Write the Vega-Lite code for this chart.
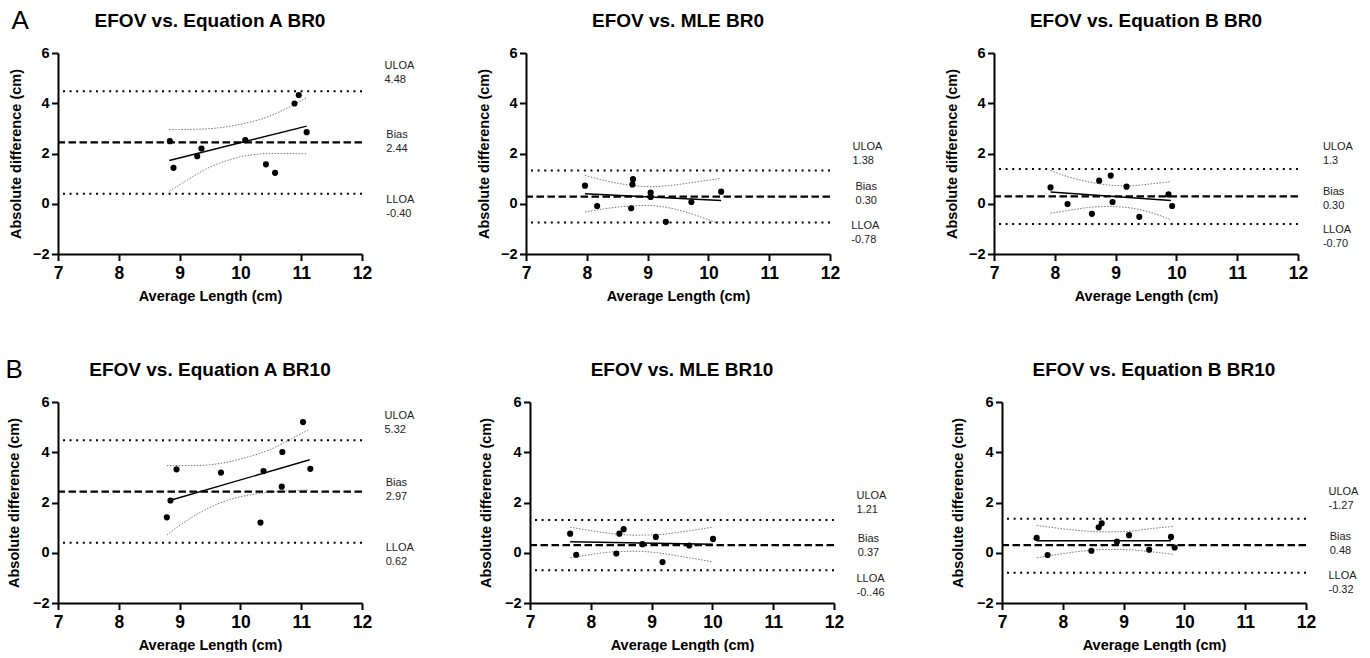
{
  "$schema": "https://vega.github.io/schema/vega-lite/v6.json",
  "padding": {"top": 7, "left": 5, "right": 5, "bottom": 0},
  "background": "white",
  "datasets": {
    "d": [
      {"p":"a0","k":"pt","x":8.84,"y":2.49},{"p":"a0","k":"pt","x":8.90,"y":1.43},{"p":"a0","k":"pt","x":9.29,"y":1.89},{"p":"a0","k":"pt","x":9.36,"y":2.20},{"p":"a0","k":"pt","x":10.08,"y":2.53},{"p":"a0","k":"pt","x":10.42,"y":1.57},{"p":"a0","k":"pt","x":10.57,"y":1.23},{"p":"a0","k":"pt","x":10.89,"y":3.99},{"p":"a0","k":"pt","x":10.96,"y":4.33},{"p":"a0","k":"pt","x":11.09,"y":2.85},
      {"p":"m0","k":"pt","x":7.97,"y":0.72},{"p":"m0","k":"pt","x":8.17,"y":-0.09},{"p":"m0","k":"pt","x":8.73,"y":-0.18},{"p":"m0","k":"pt","x":8.75,"y":0.77},{"p":"m0","k":"pt","x":8.76,"y":0.98},{"p":"m0","k":"pt","x":9.05,"y":0.44},{"p":"m0","k":"pt","x":9.05,"y":0.27},{"p":"m0","k":"pt","x":9.30,"y":-0.72},{"p":"m0","k":"pt","x":9.72,"y":0.07},{"p":"m0","k":"pt","x":10.21,"y":0.48},
      {"p":"b0","k":"pt","x":7.93,"y":0.65},{"p":"b0","k":"pt","x":8.21,"y":-0.01},{"p":"b0","k":"pt","x":8.61,"y":-0.40},{"p":"b0","k":"pt","x":8.73,"y":0.92},{"p":"b0","k":"pt","x":8.92,"y":1.12},{"p":"b0","k":"pt","x":8.95,"y":0.07},{"p":"b0","k":"pt","x":9.18,"y":0.68},{"p":"b0","k":"pt","x":9.39,"y":-0.52},{"p":"b0","k":"pt","x":9.87,"y":0.37},{"p":"b0","k":"pt","x":9.93,"y":-0.09},
      {"p":"a10","k":"pt","x":8.79,"y":1.41},{"p":"a10","k":"pt","x":8.85,"y":2.08},{"p":"a10","k":"pt","x":8.95,"y":3.32},{"p":"a10","k":"pt","x":9.68,"y":3.19},{"p":"a10","k":"pt","x":10.33,"y":1.20},{"p":"a10","k":"pt","x":10.38,"y":3.25},{"p":"a10","k":"pt","x":10.68,"y":2.63},{"p":"a10","k":"pt","x":10.69,"y":4.01},{"p":"a10","k":"pt","x":11.03,"y":5.20},{"p":"a10","k":"pt","x":11.15,"y":3.34},
      {"p":"m10","k":"pt","x":7.66,"y":0.76},{"p":"m10","k":"pt","x":7.76,"y":-0.08},{"p":"m10","k":"pt","x":8.42,"y":-0.03},{"p":"m10","k":"pt","x":8.47,"y":0.76},{"p":"m10","k":"pt","x":8.54,"y":0.94},{"p":"m10","k":"pt","x":8.85,"y":0.34},{"p":"m10","k":"pt","x":9.07,"y":0.63},{"p":"m10","k":"pt","x":9.18,"y":-0.37},{"p":"m10","k":"pt","x":9.62,"y":0.29},{"p":"m10","k":"pt","x":10.01,"y":0.55},
      {"p":"b10","k":"pt","x":7.57,"y":0.59},{"p":"b10","k":"pt","x":7.75,"y":-0.09},{"p":"b10","k":"pt","x":8.47,"y":0.08},{"p":"b10","k":"pt","x":8.59,"y":1.01},{"p":"b10","k":"pt","x":8.64,"y":1.17},{"p":"b10","k":"pt","x":8.89,"y":0.44},{"p":"b10","k":"pt","x":9.09,"y":0.70},{"p":"b10","k":"pt","x":9.42,"y":0.12},{"p":"b10","k":"pt","x":9.78,"y":0.63},{"p":"b10","k":"pt","x":9.84,"y":0.21},

      {"p":"a0","k":"fit","x":8.83,"y":1.72},{"p":"a0","k":"fit","x":11.09,"y":3.09},
      {"p":"m0","k":"fit","x":7.97,"y":0.40},{"p":"m0","k":"fit","x":10.21,"y":0.13},
      {"p":"b0","k":"fit","x":7.93,"y":0.47},{"p":"b0","k":"fit","x":9.91,"y":0.13},
      {"p":"a10","k":"fit","x":8.85,"y":2.09},{"p":"a10","k":"fit","x":11.14,"y":3.70},
      {"p":"m10","k":"fit","x":7.66,"y":0.44},{"p":"m10","k":"fit","x":10.01,"y":0.34},
      {"p":"b10","k":"fit","x":7.57,"y":0.48},{"p":"b10","k":"fit","x":9.78,"y":0.48},

      {"p":"a0","k":"ci","g":"u","x":8.83,"y":2.95},{"p":"a0","k":"ci","g":"u","x":9.22,"y":2.96},{"p":"a0","k":"ci","g":"u","x":9.67,"y":3.03},{"p":"a0","k":"ci","g":"u","x":10.05,"y":3.19},{"p":"a0","k":"ci","g":"u","x":10.44,"y":3.45},{"p":"a0","k":"ci","g":"u","x":10.77,"y":3.81},{"p":"a0","k":"ci","g":"u","x":11.09,"y":4.22},
      {"p":"a0","k":"ci","g":"l","x":8.83,"y":0.50},{"p":"a0","k":"ci","g":"l","x":9.11,"y":0.92},{"p":"a0","k":"ci","g":"l","x":9.44,"y":1.39},{"p":"a0","k":"ci","g":"l","x":9.78,"y":1.72},{"p":"a0","k":"ci","g":"l","x":10.11,"y":1.92},{"p":"a0","k":"ci","g":"l","x":10.55,"y":2.00},{"p":"a0","k":"ci","g":"l","x":11.08,"y":1.99},
      {"p":"m0","k":"ci","g":"u","x":7.97,"y":1.13},{"p":"m0","k":"ci","g":"u","x":8.30,"y":0.92},{"p":"m0","k":"ci","g":"u","x":8.68,"y":0.75},{"p":"m0","k":"ci","g":"u","x":9.06,"y":0.68},{"p":"m0","k":"ci","g":"u","x":9.45,"y":0.75},{"p":"m0","k":"ci","g":"u","x":9.83,"y":0.88},{"p":"m0","k":"ci","g":"u","x":10.21,"y":1.01},
      {"p":"m0","k":"ci","g":"l","x":7.97,"y":-0.33},{"p":"m0","k":"ci","g":"l","x":8.35,"y":-0.18},{"p":"m0","k":"ci","g":"l","x":8.73,"y":-0.09},{"p":"m0","k":"ci","g":"l","x":9.01,"y":-0.07},{"p":"m0","k":"ci","g":"l","x":9.39,"y":-0.18},{"p":"m0","k":"ci","g":"l","x":9.77,"y":-0.44},{"p":"m0","k":"ci","g":"l","x":10.13,"y":-0.75},
      {"p":"b0","k":"ci","g":"u","x":7.93,"y":1.32},{"p":"b0","k":"ci","g":"u","x":8.21,"y":1.08},{"p":"b0","k":"ci","g":"u","x":8.54,"y":0.88},{"p":"b0","k":"ci","g":"u","x":8.87,"y":0.75},{"p":"b0","k":"ci","g":"u","x":9.19,"y":0.71},{"p":"b0","k":"ci","g":"u","x":9.58,"y":0.79},{"p":"b0","k":"ci","g":"u","x":9.91,"y":0.88},
      {"p":"b0","k":"ci","g":"l","x":7.93,"y":-0.38},{"p":"b0","k":"ci","g":"l","x":8.26,"y":-0.25},{"p":"b0","k":"ci","g":"l","x":8.59,"y":-0.14},{"p":"b0","k":"ci","g":"l","x":8.87,"y":-0.11},{"p":"b0","k":"ci","g":"l","x":9.19,"y":-0.15},{"p":"b0","k":"ci","g":"l","x":9.58,"y":-0.35},{"p":"b0","k":"ci","g":"l","x":9.91,"y":-0.64},
      {"p":"a10","k":"ci","g":"u","x":8.79,"y":3.47},{"p":"a10","k":"ci","g":"u","x":9.24,"y":3.47},{"p":"a10","k":"ci","g":"u","x":9.68,"y":3.56},{"p":"a10","k":"ci","g":"u","x":10.11,"y":3.80},{"p":"a10","k":"ci","g":"u","x":10.50,"y":4.12},{"p":"a10","k":"ci","g":"u","x":10.83,"y":4.52},{"p":"a10","k":"ci","g":"u","x":11.13,"y":4.91},
      {"p":"a10","k":"ci","g":"l","x":8.79,"y":0.71},{"p":"a10","k":"ci","g":"l","x":9.13,"y":1.30},{"p":"a10","k":"ci","g":"l","x":9.46,"y":1.76},{"p":"a10","k":"ci","g":"l","x":9.79,"y":2.09},{"p":"a10","k":"ci","g":"l","x":10.17,"y":2.31},{"p":"a10","k":"ci","g":"l","x":10.55,"y":2.42},{"p":"a10","k":"ci","g":"l","x":11.13,"y":2.50},
      {"p":"m10","k":"ci","g":"u","x":7.66,"y":1.02},{"p":"m10","k":"ci","g":"u","x":8.00,"y":0.88},{"p":"m10","k":"ci","g":"u","x":8.39,"y":0.75},{"p":"m10","k":"ci","g":"u","x":8.72,"y":0.70},{"p":"m10","k":"ci","g":"u","x":9.10,"y":0.72},{"p":"m10","k":"ci","g":"u","x":9.54,"y":0.85},{"p":"m10","k":"ci","g":"u","x":10.01,"y":1.02},
      {"p":"m10","k":"ci","g":"l","x":7.66,"y":-0.20},{"p":"m10","k":"ci","g":"l","x":8.00,"y":-0.07},{"p":"m10","k":"ci","g":"l","x":8.39,"y":0.04},{"p":"m10","k":"ci","g":"l","x":8.72,"y":0.06},{"p":"m10","k":"ci","g":"l","x":9.10,"y":0.00},{"p":"m10","k":"ci","g":"l","x":9.54,"y":-0.17},{"p":"m10","k":"ci","g":"l","x":10.01,"y":-0.36},
      {"p":"b10","k":"ci","g":"u","x":7.57,"y":1.09},{"p":"b10","k":"ci","g":"u","x":7.91,"y":0.98},{"p":"b10","k":"ci","g":"u","x":8.30,"y":0.88},{"p":"b10","k":"ci","g":"u","x":8.68,"y":0.83},{"p":"b10","k":"ci","g":"u","x":9.06,"y":0.85},{"p":"b10","k":"ci","g":"u","x":9.45,"y":0.96},{"p":"b10","k":"ci","g":"u","x":9.83,"y":1.05},
      {"p":"b10","k":"ci","g":"l","x":7.57,"y":-0.20},{"p":"b10","k":"ci","g":"l","x":7.91,"y":-0.07},{"p":"b10","k":"ci","g":"l","x":8.30,"y":0.06},{"p":"b10","k":"ci","g":"l","x":8.68,"y":0.13},{"p":"b10","k":"ci","g":"l","x":9.06,"y":0.12},{"p":"b10","k":"ci","g":"l","x":9.45,"y":0.04},{"p":"b10","k":"ci","g":"l","x":9.83,"y":-0.07},

      {"p":"a0","k":"loa","y":4.48},{"p":"a0","k":"bias","y":2.44},{"p":"a0","k":"loa","y":0.40},
      {"p":"m0","k":"loa","y":1.32},{"p":"m0","k":"bias","y":0.28},{"p":"m0","k":"loa","y":-0.75},
      {"p":"b0","k":"loa","y":1.38},{"p":"b0","k":"bias","y":0.29},{"p":"b0","k":"loa","y":-0.81},
      {"p":"a10","k":"loa","y":4.48},{"p":"a10","k":"bias","y":2.43},{"p":"a10","k":"loa","y":0.40},
      {"p":"m10","k":"loa","y":1.30},{"p":"m10","k":"bias","y":0.30},{"p":"m10","k":"loa","y":-0.70},
      {"p":"b10","k":"loa","y":1.35},{"p":"b10","k":"bias","y":0.30},{"p":"b10","k":"loa","y":-0.80},

      {"p":"a0","k":"lab","x":12.37,"y":5.50,"t":"ULOA\n4.48"},{"p":"a0","k":"lab","x":12.40,"y":2.73,"t":"Bias\n2.44"},{"p":"a0","k":"lab","x":12.40,"y":0.15,"t":"LLOA\n-0.40"},
      {"p":"m0","k":"lab","x":12.37,"y":2.27,"t":"ULOA\n1.38"},{"p":"m0","k":"lab","x":12.42,"y":0.68,"t":"Bias\n0.30"},{"p":"m0","k":"lab","x":12.35,"y":-0.88,"t":"LLOA\n-0.78"},
      {"p":"b0","k":"lab","x":12.41,"y":2.24,"t":"ULOA\n1.3"},{"p":"b0","k":"lab","x":12.41,"y":0.48,"t":"Bias\n0.30"},{"p":"b0","k":"lab","x":12.41,"y":-1.04,"t":"LLOA\n-0.70"},
      {"p":"a10","k":"lab","x":12.37,"y":5.43,"t":"ULOA\n5.32"},{"p":"a10","k":"lab","x":12.39,"y":2.79,"t":"Bias\n2.97"},{"p":"a10","k":"lab","x":12.39,"y":0.19,"t":"LLOA\n0.62"},
      {"p":"m10","k":"lab","x":12.37,"y":2.27,"t":"ULOA\n1.21"},{"p":"m10","k":"lab","x":12.39,"y":0.55,"t":"Bias\n0.37"},{"p":"m10","k":"lab","x":12.37,"y":-1.05,"t":"LLOA\n-0..46"},
      {"p":"b10","k":"lab","x":12.37,"y":2.43,"t":"ULOA\n-1.27"},{"p":"b10","k":"lab","x":12.39,"y":0.62,"t":"Bias\n0.48"},{"p":"b10","k":"lab","x":12.37,"y":-0.94,"t":"LLOA\n-0.32"}
    ]
  },
  "data": {"name": "d"},
  "vconcat": [
    {
      "title": {"text": "A", "anchor": "start", "fontSize": 26, "fontWeight": "normal", "offset": 0, "dy": 22, "dx": 3, "frame": "bounds"},
      "spacing": 61,
      "hconcat": [
        {"title": "EFOV vs. Equation A BR0", "width": 304, "height": 201,
          "layer": [
            {"transform": [{"filter": "datum.p=='a0' && datum.k=='ci'"}], "mark": {"type": "line", "stroke": "#777", "strokeWidth": 1, "strokeDash": [1.5, 1.5], "interpolate": "monotone"}, "encoding": {"x": {"field": "x", "type": "quantitative", "scale": {"domain": [7, 12], "nice": false, "zero": false}, "axis": {"values": [7, 8, 9, 10, 11, 12], "title": "Average Length (cm)"}}, "y": {"field": "y", "type": "quantitative", "scale": {"domain": [-2, 6], "nice": false, "zero": false}, "axis": {"values": [-2, 0, 2, 4, 6], "title": "Absolute difference (cm)"}}, "detail": {"field": "g"}}},
            {"transform": [{"filter": "datum.p=='a0' && datum.k=='loa'"}], "mark": {"type": "rule", "color": "black", "strokeWidth": 2, "strokeDash": [2, 4.6]}, "encoding": {"y": {"field": "y", "type": "quantitative", "scale": {"domain": [-2, 6], "nice": false, "zero": false}, "axis": {"values": [-2, 0, 2, 4, 6], "title": "Absolute difference (cm)"}}}},
            {"transform": [{"filter": "datum.p=='a0' && datum.k=='bias'"}], "mark": {"type": "rule", "color": "black", "strokeWidth": 2.2, "strokeDash": [7.5, 3.5]}, "encoding": {"y": {"field": "y", "type": "quantitative", "scale": {"domain": [-2, 6], "nice": false, "zero": false}, "axis": {"values": [-2, 0, 2, 4, 6], "title": "Absolute difference (cm)"}}}},
            {"transform": [{"filter": "datum.p=='a0' && datum.k=='fit'"}], "mark": {"type": "line", "color": "black", "strokeWidth": 1.4}, "encoding": {"x": {"field": "x", "type": "quantitative", "scale": {"domain": [7, 12], "nice": false, "zero": false}, "axis": {"values": [7, 8, 9, 10, 11, 12], "title": "Average Length (cm)"}}, "y": {"field": "y", "type": "quantitative", "scale": {"domain": [-2, 6], "nice": false, "zero": false}, "axis": {"values": [-2, 0, 2, 4, 6], "title": "Absolute difference (cm)"}}}},
            {"transform": [{"filter": "datum.p=='a0' && datum.k=='pt'"}], "mark": {"type": "point", "filled": true, "color": "black", "opacity": 1, "size": 38}, "encoding": {"x": {"field": "x", "type": "quantitative", "scale": {"domain": [7, 12], "nice": false, "zero": false}, "axis": {"values": [7, 8, 9, 10, 11, 12], "title": "Average Length (cm)"}}, "y": {"field": "y", "type": "quantitative", "scale": {"domain": [-2, 6], "nice": false, "zero": false}, "axis": {"values": [-2, 0, 2, 4, 6], "title": "Absolute difference (cm)"}}}},
            {"transform": [{"filter": "datum.p=='a0' && datum.k=='lab'"}], "mark": {"type": "text", "align": "left", "baseline": "middle", "fontSize": 11, "lineBreak": "\n", "lineHeight": 14, "color": "#222"}, "encoding": {"x": {"field": "x", "type": "quantitative", "scale": {"domain": [7, 12], "nice": false, "zero": false}, "axis": {"values": [7, 8, 9, 10, 11, 12], "title": "Average Length (cm)"}}, "y": {"field": "y", "type": "quantitative", "scale": {"domain": [-2, 6], "nice": false, "zero": false}, "axis": {"values": [-2, 0, 2, 4, 6], "title": "Absolute difference (cm)"}}, "text": {"field": "t"}}}
          ]
        },
        {"title": "EFOV vs. MLE BR0", "width": 304, "height": 201,
          "layer": [
            {"transform": [{"filter": "datum.p=='m0' && datum.k=='ci'"}], "mark": {"type": "line", "stroke": "#777", "strokeWidth": 1, "strokeDash": [1.5, 1.5], "interpolate": "monotone"}, "encoding": {"x": {"field": "x", "type": "quantitative", "scale": {"domain": [7, 12], "nice": false, "zero": false}, "axis": {"values": [7, 8, 9, 10, 11, 12], "title": "Average Length (cm)"}}, "y": {"field": "y", "type": "quantitative", "scale": {"domain": [-2, 6], "nice": false, "zero": false}, "axis": {"values": [-2, 0, 2, 4, 6], "title": "Absolute difference (cm)"}}, "detail": {"field": "g"}}},
            {"transform": [{"filter": "datum.p=='m0' && datum.k=='loa'"}], "mark": {"type": "rule", "color": "black", "strokeWidth": 2, "strokeDash": [2, 4.6]}, "encoding": {"y": {"field": "y", "type": "quantitative", "scale": {"domain": [-2, 6], "nice": false, "zero": false}, "axis": {"values": [-2, 0, 2, 4, 6], "title": "Absolute difference (cm)"}}}},
            {"transform": [{"filter": "datum.p=='m0' && datum.k=='bias'"}], "mark": {"type": "rule", "color": "black", "strokeWidth": 2.2, "strokeDash": [7.5, 3.5]}, "encoding": {"y": {"field": "y", "type": "quantitative", "scale": {"domain": [-2, 6], "nice": false, "zero": false}, "axis": {"values": [-2, 0, 2, 4, 6], "title": "Absolute difference (cm)"}}}},
            {"transform": [{"filter": "datum.p=='m0' && datum.k=='fit'"}], "mark": {"type": "line", "color": "black", "strokeWidth": 1.4}, "encoding": {"x": {"field": "x", "type": "quantitative", "scale": {"domain": [7, 12], "nice": false, "zero": false}, "axis": {"values": [7, 8, 9, 10, 11, 12], "title": "Average Length (cm)"}}, "y": {"field": "y", "type": "quantitative", "scale": {"domain": [-2, 6], "nice": false, "zero": false}, "axis": {"values": [-2, 0, 2, 4, 6], "title": "Absolute difference (cm)"}}}},
            {"transform": [{"filter": "datum.p=='m0' && datum.k=='pt'"}], "mark": {"type": "point", "filled": true, "color": "black", "opacity": 1, "size": 38}, "encoding": {"x": {"field": "x", "type": "quantitative", "scale": {"domain": [7, 12], "nice": false, "zero": false}, "axis": {"values": [7, 8, 9, 10, 11, 12], "title": "Average Length (cm)"}}, "y": {"field": "y", "type": "quantitative", "scale": {"domain": [-2, 6], "nice": false, "zero": false}, "axis": {"values": [-2, 0, 2, 4, 6], "title": "Absolute difference (cm)"}}}},
            {"transform": [{"filter": "datum.p=='m0' && datum.k=='lab'"}], "mark": {"type": "text", "align": "left", "baseline": "middle", "fontSize": 11, "lineBreak": "\n", "lineHeight": 14, "color": "#222"}, "encoding": {"x": {"field": "x", "type": "quantitative", "scale": {"domain": [7, 12], "nice": false, "zero": false}, "axis": {"values": [7, 8, 9, 10, 11, 12], "title": "Average Length (cm)"}}, "y": {"field": "y", "type": "quantitative", "scale": {"domain": [-2, 6], "nice": false, "zero": false}, "axis": {"values": [-2, 0, 2, 4, 6], "title": "Absolute difference (cm)"}}, "text": {"field": "t"}}}
          ]
        },
        {"title": "EFOV vs. Equation B BR0", "width": 304, "height": 201,
          "layer": [
            {"transform": [{"filter": "datum.p=='b0' && datum.k=='ci'"}], "mark": {"type": "line", "stroke": "#777", "strokeWidth": 1, "strokeDash": [1.5, 1.5], "interpolate": "monotone"}, "encoding": {"x": {"field": "x", "type": "quantitative", "scale": {"domain": [7, 12], "nice": false, "zero": false}, "axis": {"values": [7, 8, 9, 10, 11, 12], "title": "Average Length (cm)"}}, "y": {"field": "y", "type": "quantitative", "scale": {"domain": [-2, 6], "nice": false, "zero": false}, "axis": {"values": [-2, 0, 2, 4, 6], "title": "Absolute difference (cm)"}}, "detail": {"field": "g"}}},
            {"transform": [{"filter": "datum.p=='b0' && datum.k=='loa'"}], "mark": {"type": "rule", "color": "black", "strokeWidth": 2, "strokeDash": [2, 4.6]}, "encoding": {"y": {"field": "y", "type": "quantitative", "scale": {"domain": [-2, 6], "nice": false, "zero": false}, "axis": {"values": [-2, 0, 2, 4, 6], "title": "Absolute difference (cm)"}}}},
            {"transform": [{"filter": "datum.p=='b0' && datum.k=='bias'"}], "mark": {"type": "rule", "color": "black", "strokeWidth": 2.2, "strokeDash": [7.5, 3.5]}, "encoding": {"y": {"field": "y", "type": "quantitative", "scale": {"domain": [-2, 6], "nice": false, "zero": false}, "axis": {"values": [-2, 0, 2, 4, 6], "title": "Absolute difference (cm)"}}}},
            {"transform": [{"filter": "datum.p=='b0' && datum.k=='fit'"}], "mark": {"type": "line", "color": "black", "strokeWidth": 1.4}, "encoding": {"x": {"field": "x", "type": "quantitative", "scale": {"domain": [7, 12], "nice": false, "zero": false}, "axis": {"values": [7, 8, 9, 10, 11, 12], "title": "Average Length (cm)"}}, "y": {"field": "y", "type": "quantitative", "scale": {"domain": [-2, 6], "nice": false, "zero": false}, "axis": {"values": [-2, 0, 2, 4, 6], "title": "Absolute difference (cm)"}}}},
            {"transform": [{"filter": "datum.p=='b0' && datum.k=='pt'"}], "mark": {"type": "point", "filled": true, "color": "black", "opacity": 1, "size": 38}, "encoding": {"x": {"field": "x", "type": "quantitative", "scale": {"domain": [7, 12], "nice": false, "zero": false}, "axis": {"values": [7, 8, 9, 10, 11, 12], "title": "Average Length (cm)"}}, "y": {"field": "y", "type": "quantitative", "scale": {"domain": [-2, 6], "nice": false, "zero": false}, "axis": {"values": [-2, 0, 2, 4, 6], "title": "Absolute difference (cm)"}}}},
            {"transform": [{"filter": "datum.p=='b0' && datum.k=='lab'"}], "mark": {"type": "text", "align": "left", "baseline": "middle", "fontSize": 11, "lineBreak": "\n", "lineHeight": 14, "color": "#222"}, "encoding": {"x": {"field": "x", "type": "quantitative", "scale": {"domain": [7, 12], "nice": false, "zero": false}, "axis": {"values": [7, 8, 9, 10, 11, 12], "title": "Average Length (cm)"}}, "y": {"field": "y", "type": "quantitative", "scale": {"domain": [-2, 6], "nice": false, "zero": false}, "axis": {"values": [-2, 0, 2, 4, 6], "title": "Absolute difference (cm)"}}, "text": {"field": "t"}}}
          ]
        }
      ]
    },
    {
      "title": {"text": "B", "anchor": "start", "fontSize": 26, "fontWeight": "normal", "offset": 0, "dy": 22, "dx": -1, "frame": "bounds"},
      "spacing": 63,
      "hconcat": [
        {"title": "EFOV vs. Equation A BR10", "width": 304, "height": 201,
          "layer": [
            {"transform": [{"filter": "datum.p=='a10' && datum.k=='ci'"}], "mark": {"type": "line", "stroke": "#777", "strokeWidth": 1, "strokeDash": [1.5, 1.5], "interpolate": "monotone"}, "encoding": {"x": {"field": "x", "type": "quantitative", "scale": {"domain": [7, 12], "nice": false, "zero": false}, "axis": {"values": [7, 8, 9, 10, 11, 12], "title": "Average Length (cm)"}}, "y": {"field": "y", "type": "quantitative", "scale": {"domain": [-2, 6], "nice": false, "zero": false}, "axis": {"values": [-2, 0, 2, 4, 6], "title": "Absolute difference (cm)", "titlePadding": 11}}, "detail": {"field": "g"}}},
            {"transform": [{"filter": "datum.p=='a10' && datum.k=='loa'"}], "mark": {"type": "rule", "color": "black", "strokeWidth": 2, "strokeDash": [2, 4.6]}, "encoding": {"y": {"field": "y", "type": "quantitative", "scale": {"domain": [-2, 6], "nice": false, "zero": false}, "axis": {"values": [-2, 0, 2, 4, 6], "title": "Absolute difference (cm)", "titlePadding": 11}}}},
            {"transform": [{"filter": "datum.p=='a10' && datum.k=='bias'"}], "mark": {"type": "rule", "color": "black", "strokeWidth": 2.2, "strokeDash": [7.5, 3.5]}, "encoding": {"y": {"field": "y", "type": "quantitative", "scale": {"domain": [-2, 6], "nice": false, "zero": false}, "axis": {"values": [-2, 0, 2, 4, 6], "title": "Absolute difference (cm)", "titlePadding": 11}}}},
            {"transform": [{"filter": "datum.p=='a10' && datum.k=='fit'"}], "mark": {"type": "line", "color": "black", "strokeWidth": 1.4}, "encoding": {"x": {"field": "x", "type": "quantitative", "scale": {"domain": [7, 12], "nice": false, "zero": false}, "axis": {"values": [7, 8, 9, 10, 11, 12], "title": "Average Length (cm)"}}, "y": {"field": "y", "type": "quantitative", "scale": {"domain": [-2, 6], "nice": false, "zero": false}, "axis": {"values": [-2, 0, 2, 4, 6], "title": "Absolute difference (cm)", "titlePadding": 11}}}},
            {"transform": [{"filter": "datum.p=='a10' && datum.k=='pt'"}], "mark": {"type": "point", "filled": true, "color": "black", "opacity": 1, "size": 38}, "encoding": {"x": {"field": "x", "type": "quantitative", "scale": {"domain": [7, 12], "nice": false, "zero": false}, "axis": {"values": [7, 8, 9, 10, 11, 12], "title": "Average Length (cm)"}}, "y": {"field": "y", "type": "quantitative", "scale": {"domain": [-2, 6], "nice": false, "zero": false}, "axis": {"values": [-2, 0, 2, 4, 6], "title": "Absolute difference (cm)", "titlePadding": 11}}}},
            {"transform": [{"filter": "datum.p=='a10' && datum.k=='lab'"}], "mark": {"type": "text", "align": "left", "baseline": "middle", "fontSize": 11, "lineBreak": "\n", "lineHeight": 14, "color": "#222"}, "encoding": {"x": {"field": "x", "type": "quantitative", "scale": {"domain": [7, 12], "nice": false, "zero": false}, "axis": {"values": [7, 8, 9, 10, 11, 12], "title": "Average Length (cm)"}}, "y": {"field": "y", "type": "quantitative", "scale": {"domain": [-2, 6], "nice": false, "zero": false}, "axis": {"values": [-2, 0, 2, 4, 6], "title": "Absolute difference (cm)", "titlePadding": 11}}, "text": {"field": "t"}}}
          ]
        },
        {"title": "EFOV vs. MLE BR10", "width": 304, "height": 201,
          "layer": [
            {"transform": [{"filter": "datum.p=='m10' && datum.k=='ci'"}], "mark": {"type": "line", "stroke": "#777", "strokeWidth": 1, "strokeDash": [1.5, 1.5], "interpolate": "monotone"}, "encoding": {"x": {"field": "x", "type": "quantitative", "scale": {"domain": [7, 12], "nice": false, "zero": false}, "axis": {"values": [7, 8, 9, 10, 11, 12], "title": "Average Length (cm)"}}, "y": {"field": "y", "type": "quantitative", "scale": {"domain": [-2, 6], "nice": false, "zero": false}, "axis": {"values": [-2, 0, 2, 4, 6], "title": "Absolute difference (cm)", "titlePadding": 11}}, "detail": {"field": "g"}}},
            {"transform": [{"filter": "datum.p=='m10' && datum.k=='loa'"}], "mark": {"type": "rule", "color": "black", "strokeWidth": 2, "strokeDash": [2, 4.6]}, "encoding": {"y": {"field": "y", "type": "quantitative", "scale": {"domain": [-2, 6], "nice": false, "zero": false}, "axis": {"values": [-2, 0, 2, 4, 6], "title": "Absolute difference (cm)", "titlePadding": 11}}}},
            {"transform": [{"filter": "datum.p=='m10' && datum.k=='bias'"}], "mark": {"type": "rule", "color": "black", "strokeWidth": 2.2, "strokeDash": [7.5, 3.5]}, "encoding": {"y": {"field": "y", "type": "quantitative", "scale": {"domain": [-2, 6], "nice": false, "zero": false}, "axis": {"values": [-2, 0, 2, 4, 6], "title": "Absolute difference (cm)", "titlePadding": 11}}}},
            {"transform": [{"filter": "datum.p=='m10' && datum.k=='fit'"}], "mark": {"type": "line", "color": "black", "strokeWidth": 1.4}, "encoding": {"x": {"field": "x", "type": "quantitative", "scale": {"domain": [7, 12], "nice": false, "zero": false}, "axis": {"values": [7, 8, 9, 10, 11, 12], "title": "Average Length (cm)"}}, "y": {"field": "y", "type": "quantitative", "scale": {"domain": [-2, 6], "nice": false, "zero": false}, "axis": {"values": [-2, 0, 2, 4, 6], "title": "Absolute difference (cm)", "titlePadding": 11}}}},
            {"transform": [{"filter": "datum.p=='m10' && datum.k=='pt'"}], "mark": {"type": "point", "filled": true, "color": "black", "opacity": 1, "size": 38}, "encoding": {"x": {"field": "x", "type": "quantitative", "scale": {"domain": [7, 12], "nice": false, "zero": false}, "axis": {"values": [7, 8, 9, 10, 11, 12], "title": "Average Length (cm)"}}, "y": {"field": "y", "type": "quantitative", "scale": {"domain": [-2, 6], "nice": false, "zero": false}, "axis": {"values": [-2, 0, 2, 4, 6], "title": "Absolute difference (cm)", "titlePadding": 11}}}},
            {"transform": [{"filter": "datum.p=='m10' && datum.k=='lab'"}], "mark": {"type": "text", "align": "left", "baseline": "middle", "fontSize": 11, "lineBreak": "\n", "lineHeight": 14, "color": "#222"}, "encoding": {"x": {"field": "x", "type": "quantitative", "scale": {"domain": [7, 12], "nice": false, "zero": false}, "axis": {"values": [7, 8, 9, 10, 11, 12], "title": "Average Length (cm)"}}, "y": {"field": "y", "type": "quantitative", "scale": {"domain": [-2, 6], "nice": false, "zero": false}, "axis": {"values": [-2, 0, 2, 4, 6], "title": "Absolute difference (cm)", "titlePadding": 11}}, "text": {"field": "t"}}}
          ]
        },
        {"title": "EFOV vs. Equation B BR10", "width": 304, "height": 201,
          "layer": [
            {"transform": [{"filter": "datum.p=='b10' && datum.k=='ci'"}], "mark": {"type": "line", "stroke": "#777", "strokeWidth": 1, "strokeDash": [1.5, 1.5], "interpolate": "monotone"}, "encoding": {"x": {"field": "x", "type": "quantitative", "scale": {"domain": [7, 12], "nice": false, "zero": false}, "axis": {"values": [7, 8, 9, 10, 11, 12], "title": "Average Length (cm)"}}, "y": {"field": "y", "type": "quantitative", "scale": {"domain": [-2, 6], "nice": false, "zero": false}, "axis": {"values": [-2, 0, 2, 4, 6], "title": "Absolute difference (cm)", "titlePadding": 11}}, "detail": {"field": "g"}}},
            {"transform": [{"filter": "datum.p=='b10' && datum.k=='loa'"}], "mark": {"type": "rule", "color": "black", "strokeWidth": 2, "strokeDash": [2, 4.6]}, "encoding": {"y": {"field": "y", "type": "quantitative", "scale": {"domain": [-2, 6], "nice": false, "zero": false}, "axis": {"values": [-2, 0, 2, 4, 6], "title": "Absolute difference (cm)", "titlePadding": 11}}}},
            {"transform": [{"filter": "datum.p=='b10' && datum.k=='bias'"}], "mark": {"type": "rule", "color": "black", "strokeWidth": 2.2, "strokeDash": [7.5, 3.5]}, "encoding": {"y": {"field": "y", "type": "quantitative", "scale": {"domain": [-2, 6], "nice": false, "zero": false}, "axis": {"values": [-2, 0, 2, 4, 6], "title": "Absolute difference (cm)", "titlePadding": 11}}}},
            {"transform": [{"filter": "datum.p=='b10' && datum.k=='fit'"}], "mark": {"type": "line", "color": "black", "strokeWidth": 1.4}, "encoding": {"x": {"field": "x", "type": "quantitative", "scale": {"domain": [7, 12], "nice": false, "zero": false}, "axis": {"values": [7, 8, 9, 10, 11, 12], "title": "Average Length (cm)"}}, "y": {"field": "y", "type": "quantitative", "scale": {"domain": [-2, 6], "nice": false, "zero": false}, "axis": {"values": [-2, 0, 2, 4, 6], "title": "Absolute difference (cm)", "titlePadding": 11}}}},
            {"transform": [{"filter": "datum.p=='b10' && datum.k=='pt'"}], "mark": {"type": "point", "filled": true, "color": "black", "opacity": 1, "size": 38}, "encoding": {"x": {"field": "x", "type": "quantitative", "scale": {"domain": [7, 12], "nice": false, "zero": false}, "axis": {"values": [7, 8, 9, 10, 11, 12], "title": "Average Length (cm)"}}, "y": {"field": "y", "type": "quantitative", "scale": {"domain": [-2, 6], "nice": false, "zero": false}, "axis": {"values": [-2, 0, 2, 4, 6], "title": "Absolute difference (cm)", "titlePadding": 11}}}},
            {"transform": [{"filter": "datum.p=='b10' && datum.k=='lab'"}], "mark": {"type": "text", "align": "left", "baseline": "middle", "fontSize": 11, "lineBreak": "\n", "lineHeight": 14, "color": "#222"}, "encoding": {"x": {"field": "x", "type": "quantitative", "scale": {"domain": [7, 12], "nice": false, "zero": false}, "axis": {"values": [7, 8, 9, 10, 11, 12], "title": "Average Length (cm)"}}, "y": {"field": "y", "type": "quantitative", "scale": {"domain": [-2, 6], "nice": false, "zero": false}, "axis": {"values": [-2, 0, 2, 4, 6], "title": "Absolute difference (cm)", "titlePadding": 11}}, "text": {"field": "t"}}}
          ]
        }
      ]
    }
  ],
  "spacing": 53,
  "config": {
    "font": "Liberation Sans",
    "view": {"stroke": null},
    "axis": {"grid": false, "domainColor": "black", "domainWidth": 2, "tickColor": "black", "tickWidth": 2, "tickSize": 6.5, "labelFont": "Liberation Sans", "labelFontWeight": "bold", "labelColor": "black", "labelFlush": false, "titleFont": "Liberation Sans", "titleFontSize": 14.5, "titleFontWeight": "bold", "titleColor": "black"},
    "axisX": {"labelFontSize": 17.5, "labelPadding": 4, "titlePadding": 7},
    "axisY": {"labelFontSize": 14.5, "labelPadding": 2.5, "titlePadding": 9},
    "title": {"font": "Liberation Sans", "fontSize": 19, "fontWeight": "bold", "color": "black", "offset": 14.5}
  }
}
